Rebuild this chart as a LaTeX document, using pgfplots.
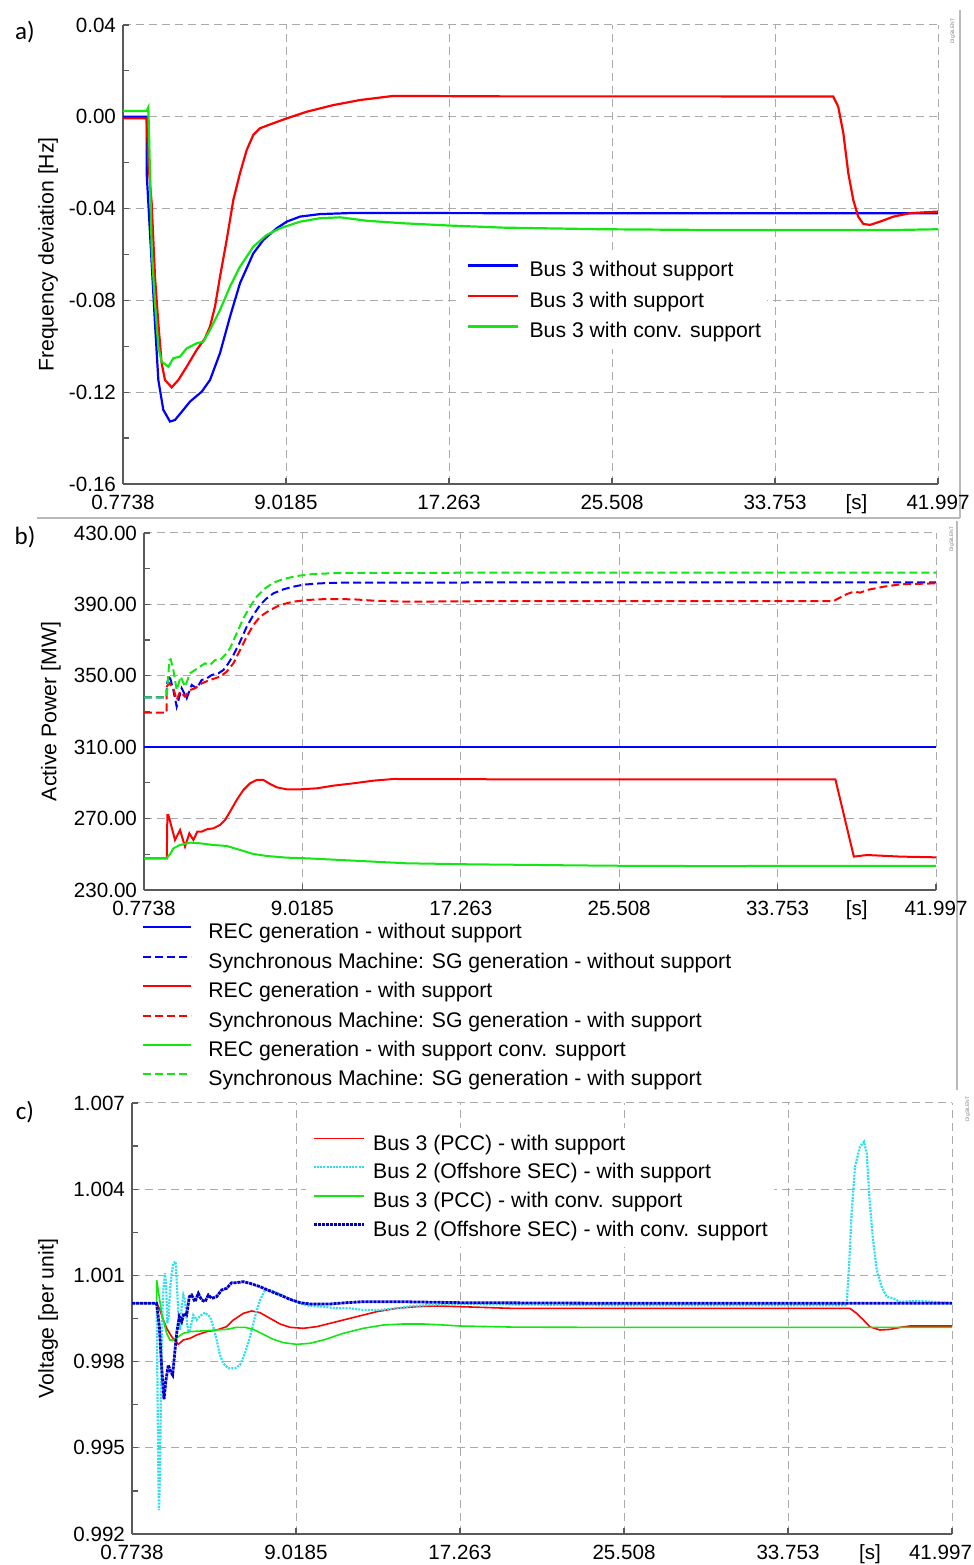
\documentclass[border=0pt]{standalone}
\usepackage{pgfplots}
\pgfplotsset{compat=1.18}
\usepackage{fontspec}
\setmainfont{Liberation Sans}
\newfontfamily\calib{Carlito}
\definecolor{cblue}{RGB}{0,0,255}
\definecolor{cred}{RGB}{255,0,0}
\definecolor{cgreen}{RGB}{20,230,20}
\definecolor{ccyan}{RGB}{40,225,240}
\definecolor{cdblue}{RGB}{0,0,205}
\definecolor{gridc}{RGB}{170,170,170}
\definecolor{axc}{RGB}{90,90,90}
\pgfplotsset{
  dsl/.style={
    scale only axis,
    axis lines=left,
    axis line style={-, axc, line width=1pt},
    xmin=0.7738, xmax=41.997,
    xtick={0.7738,9.0185,17.263,25.508,33.753,41.997},
    xticklabels={0.7738,9.0185,17.263,25.508,33.753,41.997},
    minor x tick num=1,
    minor y tick num=1,
    extra x ticks={37.875},
    extra x tick labels={[s]},
    extra x tick style={grid=none, major tick length=0pt},
    tick align=inside,
    major tick length=3pt, minor tick length=3pt,
    tick style={axc, line width=0.6pt},
    grid=major,
    major grid style={gridc, dash pattern=on 4pt off 2.5pt, line width=0.5pt},
    ticklabel style={font=\fontsize{10.3}{12}\selectfont},
    xticklabel style={yshift=-2pt},
    label style={font=\fontsize{10.6}{12}\selectfont},
    legend cell align=left,
    legend style={draw=none, font=\fontsize{10.6}{12}\selectfont,
      nodes={inner sep=0pt, text height=8pt, text depth=2.5pt}},
  }
}
\begin{document}
\begin{tikzpicture}
\useasboundingbox (0pt,0pt) rectangle (487pt,782.5pt);
% decorative frame lines
\draw[gray!55, line width=0.6pt] (18.5pt,523.5pt) -- (480pt,523.5pt);
\draw[gray!55, line width=0.6pt] (480pt,777.5pt) -- (480pt,523.5pt);
\draw[gray!55, line width=0.6pt] (478.5pt,522pt) -- (478.5pt,237.5pt);
\node[rotate=90, font=\fontsize{2.5}{3}\selectfont, text=gray] at (476.5pt,767pt) {DIgSILENT};
\node[rotate=90, font=\fontsize{2.5}{3}\selectfont, text=gray] at (476pt,513pt) {DIgSILENT};
\node[rotate=90, font=\fontsize{2.5}{3}\selectfont, text=gray] at (484pt,228pt) {DIgSILENT};
\node[font=\calib\fontsize{12.5}{14}\selectfont] at (12.5pt,766.5pt) {a)};
\node[font=\calib\fontsize{12.5}{14}\selectfont] at (12.5pt,514pt) {b)};
\node[font=\calib\fontsize{12.5}{14}\selectfont] at (12.5pt,226.5pt) {c)};

% ---------------- panel a ----------------
\begin{axis}[dsl, at={(61.5pt,540.5pt)}, anchor=south west,
  width=407.5pt, height=229.5pt,
  ymin=-0.16, ymax=0.04,
  ytick={-0.16,-0.12,-0.08,-0.04,0,0.04},
  yticklabels={-0.16,-0.12,-0.08,-0.04,0.00,0.04},
  ylabel={Frequency deviation [Hz]},
  ylabel style={at={(axis description cs:-0.092,0.5)}, anchor=center},
  legend image code/.code={\draw[#1] (0pt,3pt) -- (25pt,3pt);},
  legend style={fill=white, inner sep=3pt, at={(axis description cs:0.4135,0.4998)}, anchor=north west, row sep=4.75pt, column sep=5.5pt},
]
\addplot[cblue, line width=1.1pt] coordinates {
(0.7738,0.0000) (1.970,0.0000) (1.971,-0.0246) (2.224,-0.0638) (2.392,-0.0900) (2.561,-0.1147) (2.813,-0.1277) (3.151,-0.1328) (3.404,-0.1321) (3.825,-0.1277) (4.163,-0.1241) (4.753,-0.1198) (5.174,-0.1147) (5.680,-0.1030) (6.186,-0.0871) (6.692,-0.0725) (7.366,-0.0595) (7.872,-0.0537) (8.546,-0.0486) (9.052,-0.0457) (9.726,-0.0435) (10.738,-0.0424) (12.42,-0.0419) (20,-0.0420) (30,-0.0420) (41.997,-0.0420)};
\addlegendentry{Bus 3 without support}
\addplot[cred, line width=1.1pt] coordinates {
(0.7738,-0.0007) (1.970,-0.0007) (2.055,-0.0200) (2.224,-0.0377) (2.392,-0.0697) (2.561,-0.0900) (2.729,-0.1074) (2.898,-0.1147) (3.235,-0.1179) (3.572,-0.1147) (3.994,-0.1089) (4.500,-0.1016) (4.921,-0.0965) (5.174,-0.0914) (5.427,-0.0827) (5.680,-0.0697) (6.017,-0.0537) (6.355,-0.0362) (6.692,-0.0246) (7.029,-0.0145) (7.366,-0.0079) (7.703,-0.0050) (8.377,-0.0028) (9.052,-0.0007) (10.064,0.0022) (11.413,0.0051) (12.76,0.0073) (14.45,0.0091) (20,0.0089) (30,0.0089) (36.70,0.0088) (36.95,0.0044) (37.21,-0.0072) (37.46,-0.0246) (37.71,-0.0362) (37.96,-0.0435) (38.22,-0.0467) (38.56,-0.0471) (39.06,-0.0457) (39.74,-0.0435) (40.58,-0.0420) (41.997,-0.0413)};
\addlegendentry{Bus 3 with support}
\addplot[cgreen, line width=1.1pt] coordinates {
(0.7738,0.0025) (1.970,0.0025) (2.055,0.0041) (2.140,-0.0246) (2.224,-0.0580) (2.392,-0.0813) (2.561,-0.1002) (2.729,-0.1067) (3.067,-0.1089) (3.320,-0.1052) (3.657,-0.1045) (3.994,-0.1009) (4.500,-0.0987) (4.837,-0.0980) (5.174,-0.0929) (5.680,-0.0842) (6.186,-0.0740) (6.692,-0.0653) (7.366,-0.0566) (8.040,-0.0515) (8.714,-0.0486) (9.726,-0.0457) (10.738,-0.0442) (11.75,-0.0438) (13.10,-0.0453) (14.95,-0.0464) (17.31,-0.0474) (20,-0.0483) (25,-0.0490) (30,-0.0493) (35,-0.0493) (40,-0.0493) (41.997,-0.0490)};
\addlegendentry{Bus 3 with conv. support}
\end{axis}

% ---------------- panel b ----------------
\begin{axis}[dsl, at={(72pt,337.5pt)}, anchor=south west,
  width=396pt, height=178.5pt,
  ymin=230, ymax=430,
  ytick={230,270,310,350,390,430},
  yticklabels={230.00,270.00,310.00,350.00,390.00,430.00},
  ylabel={Active Power [MW]},
  ylabel style={at={(axis description cs:-0.1174,0.5)}, anchor=center},
  legend image code/.code={\draw[#1] (0pt,3pt) -- (24pt,3pt);},
  legend style={fill=none, inner sep=0pt, at={(axis description cs:-0.0025,-0.0913)}, anchor=north west, row sep=4.2pt, column sep=8pt},
]
\addplot[cblue, line width=1pt] coordinates {(0.7738,310.3) (41.997,310.3)};
\addlegendentry{REC generation - without support}
\addplot[cblue, line width=1pt, dash pattern=on 4pt off 2pt] coordinates {
(0.7738,337.9) (1.954,337.9) (1.96,345.0) (2.093,350.45) (2.302,342.05) (2.475,332.71) (2.736,342.98) (2.996,337.38) (3.256,344.85) (3.517,342.98) (3.777,347.65) (4.038,348.58) (4.298,350.45) (4.645,351.39) (4.906,353.25) (5.166,356.99) (5.427,361.66) (5.774,369.13) (6.121,377.53) (6.468,384.06) (6.815,389.67) (7.163,393.40) (7.510,396.20) (8.031,398.44) (8.551,399.94) (9.072,401.06) (9.940,401.80) (10.982,402.18) (20,402.3) (41.997,402.4)};
\addlegendentry{Synchronous Machine: SG generation - without support}
\addplot[cred, line width=1pt] coordinates {
(0.7738,247.75) (1.960,247.75) (1.990,272.0) (2.041,272.03) (2.388,258.02) (2.649,263.63) (2.909,254.29) (3.135,261.76) (3.343,258.02) (3.551,262.69) (3.777,262.69) (4.038,264.00) (4.385,264.56) (4.732,266.43) (4.993,269.22) (5.253,273.91) (5.600,280.43) (5.947,286.03) (6.295,289.77) (6.642,291.63) (6.989,291.63) (7.336,289.39) (7.684,287.52) (8.204,286.40) (8.899,286.40) (9.767,286.96) (10.635,288.46) (11.677,289.77) (12.718,291.26) (13.760,292.19) (20,292.0) (30,292.0) (36.76,292.0) (37.72,248.7) (38.41,249.6) (40.15,248.7) (41.997,248.3)};
\addlegendentry{REC generation - with support}
\addplot[cred, line width=1pt, dash pattern=on 4pt off 2pt] coordinates {
(0.7738,329.35) (1.954,329.35) (1.960,343.92) (2.093,345.78) (2.302,342.98) (2.475,336.45) (2.649,341.12) (2.909,338.31) (3.170,342.05) (3.430,342.98) (3.777,345.78) (4.211,347.65) (4.732,349.52) (5.079,352.32) (5.427,356.99) (5.774,364.46) (6.121,371.93) (6.468,378.46) (6.815,383.13) (7.336,386.87) (7.857,389.67) (8.551,391.53) (9.246,392.47) (10.288,393.03) (11.677,392.84) (12.718,392.09) (14.454,391.53) (20,391.9) (30,391.9) (36.67,391.9) (37.02,393.96) (37.37,395.83) (37.72,397.13) (38.06,396.6) (38.41,398.07) (39.28,399.93) (40.15,401.24) (41.997,401.8)};
\addlegendentry{Synchronous Machine: SG generation - with support}
\addplot[cgreen, line width=1pt] coordinates {
(0.7738,247.75) (1.954,247.75) (2.163,250.55) (2.302,253.35) (2.649,255.22) (3.170,256.53) (3.690,256.15) (4.385,255.22) (5.079,254.66) (5.774,252.42) (6.468,250.18) (7.163,249.06) (8.204,248.12) (9.246,247.75) (10.982,246.82) (12.718,245.88) (14.454,244.95) (17.753,244.39) (25,243.6) (30,243.4) (35,243.5) (41.997,243.5)};
\addlegendentry{REC generation - with support conv. support}
\addplot[cgreen, line width=1pt, dash pattern=on 4pt off 2pt] coordinates {
(0.7738,337.9) (1.954,337.9) (2.093,358.86) (2.163,359.23) (2.302,353.25) (2.475,342.05) (2.684,349.52) (2.909,343.92) (3.170,351.39) (3.430,353.25) (3.690,355.12) (3.951,356.99) (4.211,356.05) (4.472,358.86) (4.732,358.86) (4.993,361.66) (5.253,365.39) (5.600,373.79) (5.947,382.19) (6.295,388.73) (6.642,394.33) (7.076,399.00) (7.510,402.18) (8.031,404.23) (8.725,405.91) (9.593,407.03) (10.982,407.59) (20,407.8) (41.997,407.8)};
\addlegendentry{Synchronous Machine: SG generation - with support}
\end{axis}

% ---------------- panel c ----------------
\begin{axis}[dsl, at={(66pt,15.5pt)}, anchor=south west,
  width=410pt, height=215.5pt,
  ymin=0.992, ymax=1.007,
  xticklabels={0.7738,9.0185,17.263,25.508,33.753,\makebox[20pt][r]{41.997}},
  ytick={0.992,0.995,0.998,1.001,1.004,1.007},
  yticklabels={0.992,0.995,0.998,1.001,1.004,1.007},
  ylabel={Voltage [per unit]},
  ylabel style={at={(axis description cs:-0.1024,0.5)}, anchor=center},
  legend image code/.code={\draw[#1] (0pt,3pt) -- (25pt,3pt);},
  legend style={fill=white, inner sep=3pt, at={(axis description cs:0.2122,0.9429)}, anchor=north west, row sep=3.85pt, column sep=4pt},
]
\addplot[cred, line width=0.8pt] coordinates {
(0.7738,1.00003) (2.014,1.00003) (2.181,0.999796) (2.349,0.999448) (2.517,0.999158) (2.768,0.998868) (3.103,0.998601) (3.354,0.998752) (3.690,0.998810) (4.025,0.998926) (4.527,0.999042) (5.030,0.999100) (5.533,0.999216) (5.868,0.999448) (6.371,0.999680) (6.790,0.999761) (7.209,0.999703) (7.711,0.999506) (8.214,0.999309) (8.717,0.999193) (9.387,0.999158) (10.057,0.999216) (11.063,0.999390) (12.068,0.999564) (13.074,0.999738) (14.079,0.999854) (15.084,0.999912) (16.090,0.999935) (17.263,0.999912) (20,0.99985) (36.87,0.99985) (37.20,0.99968) (37.54,0.99945) (37.87,0.99921) (38.37,0.99910) (38.88,0.99912) (39.38,0.99919) (39.88,0.99924) (41.997,0.99924)};
\addlegendentry{Bus 3 (PCC) - with support}
\addplot[ccyan, line width=1.1pt, dash pattern=on 1pt off 0.6pt] coordinates {
(0.7738,1.00003) (2.014,1.00003) (2.047,0.997592) (2.098,0.994111) (2.131,0.992835) (2.181,0.994111) (2.232,0.997012) (2.282,0.999332) (2.349,1.000492) (2.433,1.001072) (2.483,1.000724) (2.550,0.999332) (2.617,0.999564) (2.684,1.000492) (2.768,1.001072) (2.852,1.001420) (2.969,1.001478) (3.019,1.000840) (3.103,0.999680) (3.187,0.999100) (3.271,0.999912) (3.354,1.000318) (3.438,1.000144) (3.522,0.999448) (3.606,0.999042) (3.690,0.999100) (3.857,0.999622) (4.025,0.999448) (4.192,0.999587) (4.444,0.999703) (4.695,0.999564) (4.863,0.999216) (5.030,0.998752) (5.198,0.998230) (5.365,0.997940) (5.617,0.997766) (5.952,0.997766) (6.203,0.997882) (6.455,0.998288) (6.706,0.998868) (6.957,0.999564) (7.209,1.000144) (7.460,1.000492) (7.711,1.000492) (8.214,1.000341) (8.717,1.000167) (9.219,1.000028) (9.722,0.999935) (10.392,0.999912) (11.063,0.999854) (11.733,0.999854) (12.403,0.999796) (13.241,0.999796) (14.079,0.999854) (14.917,0.999935) (15.755,0.999970) (17.263,1.000005) (25,0.99996) (36.70,0.99996) (36.83,1.00142) (36.95,1.00316) (37.12,1.00478) (37.37,1.00548) (37.57,1.00565) (37.71,1.00525) (37.84,1.00374) (38.01,1.00235) (38.21,1.00119) (38.46,1.00061) (38.71,1.00026) (39.05,1.00020) (39.38,1.00008) (40.2,1.00011) (41.997,1.00004)};
\addlegendentry{Bus 2 (Offshore SEC) - with support}
\addplot[cgreen, line width=0.8pt] coordinates {
(0.7738,1.00003) (2.014,1.00003) (2.016,1.000840) (2.265,0.999680) (2.517,0.998984) (2.684,0.998752) (2.852,0.998752) (3.103,0.998868) (3.354,0.998984) (3.690,0.999042) (4.527,0.999077) (5.533,0.999123) (6.036,0.999193) (6.455,0.999193) (6.874,0.999123) (7.376,0.998949) (7.879,0.998775) (8.381,0.998659) (9.052,0.998601) (9.722,0.998636) (10.392,0.998752) (11.398,0.998984) (12.403,0.999158) (13.409,0.999274) (14.414,0.999309) (15.419,0.999309) (16.425,0.999274) (17.263,0.999239) (20,0.99920) (25,0.99919) (41.997,0.99919)};
\addlegendentry{Bus 3 (PCC) - with conv. support}
\addplot[cdblue, line width=1.4pt, dash pattern=on 1.6pt off 0.4pt] coordinates {
(0.7738,1.00003) (2.014,1.00003) (2.148,0.999216) (2.265,0.997824) (2.383,0.996687) (2.483,0.997360) (2.600,0.997882) (2.718,0.997650) (2.818,0.997534) (2.936,0.998404) (3.019,0.998984) (3.153,0.999564) (3.271,0.999390) (3.388,0.999680) (3.522,0.999622) (3.656,1.000260) (3.773,1.000318) (3.941,1.000086) (4.109,1.000376) (4.276,1.000144) (4.444,1.000086) (4.611,1.000318) (4.779,1.000202) (5.030,1.000260) (5.281,1.000492) (5.533,1.000550) (5.784,1.000747) (6.036,1.000747) (6.371,1.000782) (6.706,1.000724) (7.209,1.000608) (7.711,1.000457) (8.214,1.000318) (8.717,1.000167) (9.219,1.000051) (9.722,1.000005) (10.727,1.000005) (11.566,1.000051) (12.403,1.000086) (14.079,1.000086) (17.263,1.000051) (25,1.00003) (41.997,1.00003)};
\addlegendentry{Bus 2 (Offshore SEC) - with conv. support}
\end{axis}
\end{tikzpicture}
\end{document}
